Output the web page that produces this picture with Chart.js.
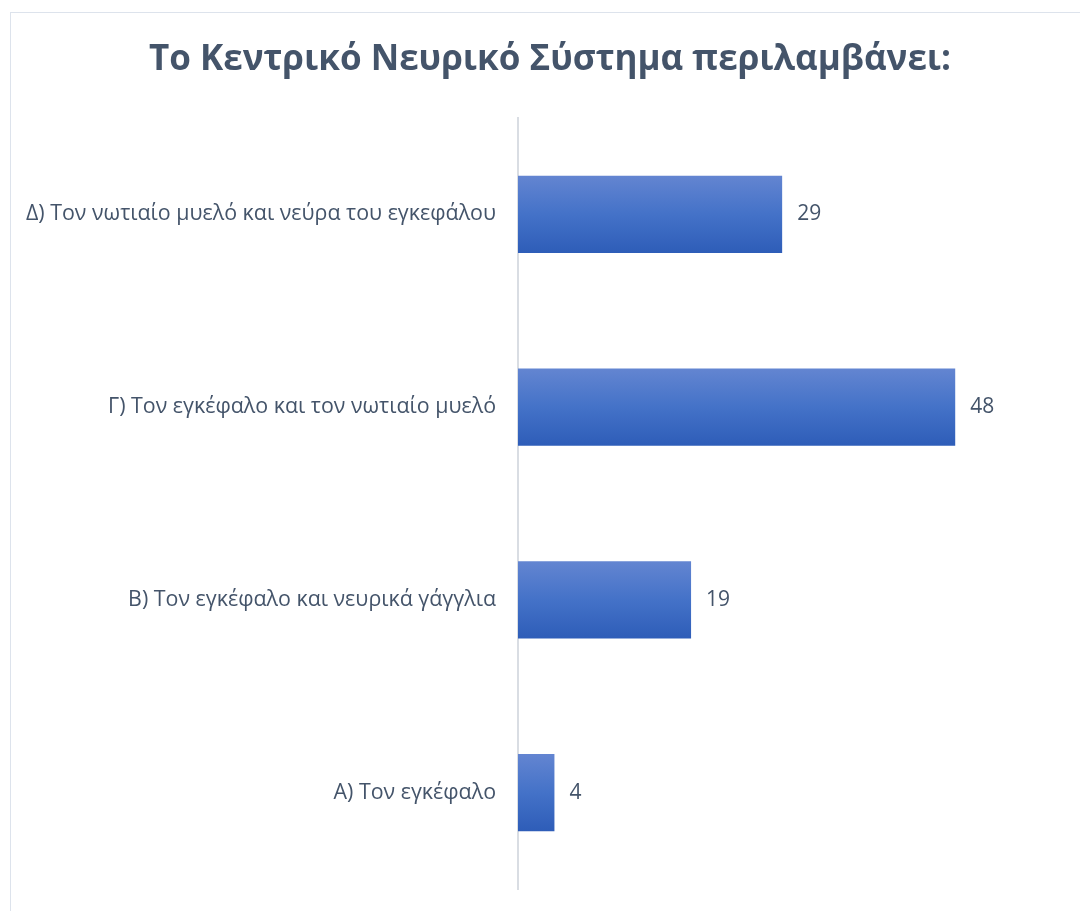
<!DOCTYPE html>
<html>
<head>
<meta charset="utf-8">
<script src="https://cdn.jsdelivr.net/npm/chart.js@4.4.1/dist/chart.umd.min.js"></script>
<style>
  body { margin: 0; background: #fff; overflow: hidden; }
  #frame { position: absolute; left: 10px; top: 12px; width: 1200px; height: 1000px; border: 1px solid #dde3ec; }
  #wrap { position: absolute; left: 0; top: 0; width: 1080px; height: 911px; }
</style>
</head>
<body>
<div id="frame"></div>
<div id="wrap"><canvas id="chart"></canvas></div>
<script>
const categories = [
  "Δ) Τον νωτιαίο μυελό και νεύρα του εγκεφάλου",
  "Γ) Τον εγκέφαλο και τον νωτιαίο μυελό",
  "Β) Τον εγκέφαλο και νευρικά γάγγλια",
  "Α) Τον εγκέφαλο"
];
const values = [29, 48, 19, 4];
const titleText = "Το Κεντρικό Νευρικό Σύστημα περιλαμβάνει:";

const textColor = "#44546a";

const barGradient = (context) => {
  const chart = context.chart;
  const area = chart.chartArea;
  if (!area) return "#4472c4";
  const band = (area.bottom - area.top) / categories.length;
  const center = chart.scales.y.getPixelForValue(context.dataIndex);
  const half = band * 0.4 / 2;
  const g = chart.ctx.createLinearGradient(0, center - half, 0, center + half);
  g.addColorStop(0, "#6385d1");
  g.addColorStop(0.5, "#4472c8");
  g.addColorStop(1, "#2e5db8");
  return g;
};

const valueLabels = {
  id: "valueLabels",
  afterDatasetsDraw(chart) {
    const ctx = chart.ctx;
    const meta = chart.getDatasetMeta(0);
    ctx.save();
    ctx.font = "21px 'Open Sans', sans-serif";
    ctx.fillStyle = textColor;
    ctx.textAlign = "left";
    ctx.textBaseline = "middle";
    meta.data.forEach((bar, i) => {
      ctx.fillText(String(values[i]), bar.x + 15, bar.y);
    });
    ctx.restore();
  }
};

const ctx = document.getElementById("chart").getContext("2d");
new Chart(ctx, {
  type: "bar",
  data: {
    labels: categories,
    datasets: [
      {
        data: values,
        backgroundColor: barGradient,
        categoryPercentage: 1,
        barPercentage: 0.4,
      },
    ],
  },
  options: {
    indexAxis: "y",
    responsive: true,
    maintainAspectRatio: false,
    animation: false,
    layout: { padding: { top: 0, right: 0, bottom: 22, left: 20 } },
    plugins: {
      legend: { display: false },
      tooltip: { enabled: false },
      title: {
        display: true,
        text: titleText,
        color: textColor,
        font: { family: "'Open Sans', sans-serif", size: 35, weight: "bold" },
        padding: { top: 39, bottom: 37 },
      },
    },
    scales: {
      x: {
        min: 0,
        max: 61.7,
        display: false,
      },
      y: {
        afterFit(scale) {
          scale.width = 498;
          scale.paddingTop = 0;
          scale.paddingBottom = 0;
        },
        grid: { display: false, drawTicks: false },
        border: { display: true, color: "#d9dde3", width: 2 },
        ticks: {
          color: textColor,
          padding: 22,
          font: { family: "'Open Sans', sans-serif", size: 21.4 },
        },
      },
    },
  },
  plugins: [valueLabels],
});
</script>
</body>
</html>
